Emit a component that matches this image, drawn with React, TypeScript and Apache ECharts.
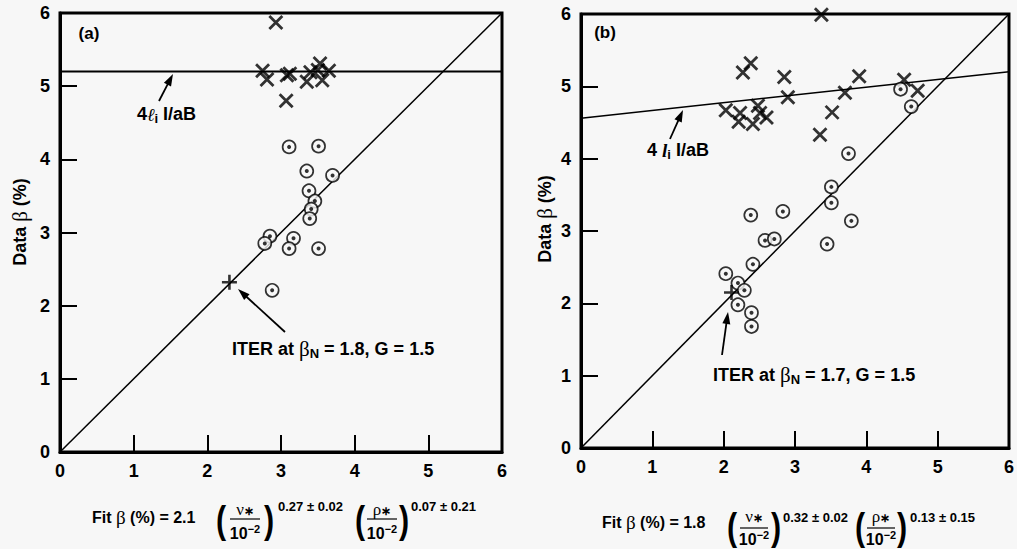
import React, { useEffect, useRef } from "react";
import * as echarts from "echarts";

// ---------- data ----------
const axisTicks = [0, 1, 2, 3, 4, 5, 6];

// Panel (a)
const aCrosses: number[][] = [
  [2.75, 5.21], [2.81, 5.09], [2.93, 5.87], [3.08, 5.15], [3.12, 5.17],
  [3.07, 4.8], [3.35, 5.06], [3.4, 5.19], [3.5, 5.22], [3.53, 5.31],
  [3.56, 5.08], [3.65, 5.21],
];
const aCircles: number[][] = [
  [3.11, 4.17], [3.51, 4.18], [3.35, 3.84], [3.7, 3.78], [3.38, 3.57],
  [3.46, 3.43], [3.41, 3.32], [3.39, 3.19], [2.85, 2.95], [2.78, 2.85],
  [3.17, 2.92], [3.11, 2.78], [3.51, 2.78], [2.88, 2.21],
];
const aIter: number[][] = [[2.3, 2.32]];
const aLimitLine: number[][] = [[0, 5.2], [6, 5.2]];
const aFitLine: number[][] = [[0, 0], [6, 6]];

// Panel (b)
const bCrosses: number[][] = [
  [3.37, 5.99], [2.27, 5.19], [2.38, 5.32], [2.85, 5.13], [2.9, 4.85],
  [2.03, 4.67], [2.23, 4.63], [2.21, 4.51], [2.41, 4.48], [2.48, 4.73],
  [2.51, 4.63], [2.6, 4.57], [3.35, 4.33], [3.52, 4.64], [3.7, 4.91],
  [3.9, 5.14], [4.53, 5.09], [4.72, 4.94],
];
const bCircles: number[][] = [
  [4.48, 4.96], [4.63, 4.72], [3.75, 4.07], [3.51, 3.61], [3.51, 3.39],
  [3.79, 3.14], [3.45, 2.82], [2.38, 3.22], [2.83, 3.27], [2.58, 2.87],
  [2.71, 2.89], [2.41, 2.54], [2.03, 2.41], [2.2, 2.28], [2.29, 2.18],
  [2.2, 1.98], [2.39, 1.87], [2.39, 1.68],
];
const bIter: number[][] = [[2.11, 2.15]];
const bLimitLine: number[][] = [[0, 4.56], [6, 5.2]];
const bFitLine: number[][] = [[0, 0], [6, 6]];

// ---------- styling ----------
const BG = "#f7f7f7";
const FONT = "'Liberation Sans', Arial, sans-serif";
const SERIF = "'Liberation Serif', serif";
const CROSS = "path://M0,0L10,10M10,0L0,10";
const PLUS = "path://M5,0L5,10M0,5L10,5";

function arrow(x1: number, y1: number, x2: number, y2: number) {
  const dx = x2 - x1, dy = y2 - y1;
  const L = Math.hypot(dx, dy);
  const ux = dx / L, uy = dy / L;
  const hl = 12, hw = 4;
  const bx = x2 - ux * hl, by = y2 - uy * hl;
  return [
    { type: "line", shape: { x1, y1, x2: bx + ux * 2, y2: by + uy * 2 }, style: { stroke: "#000", lineWidth: 1.8 } },
    {
      type: "polygon",
      shape: { points: [[x2, y2], [bx - uy * hw, by + ux * hw], [bx + uy * hw, by - ux * hw]] },
      style: { fill: "#000" },
    },
  ];
}

function txt(x: number, y: number, text: string, opts: any = {}) {
  return {
    type: "text",
    x,
    y,
    scaleX: opts.scaleX || 1,
    style: {
      text,
      fill: "#000",
      font: opts.font || `bold 17px ${FONT}`,
      textAlign: opts.align || "left",
      textVerticalAlign: "middle",
      rich: opts.rich,
    },
    rotation: opts.rotation || 0,
  };
}

function makeRich(size: number) {
  return {
    t: { fontFamily: FONT, fontWeight: "bold", fontSize: size, color: "#000" },
    g: { fontFamily: SERIF, fontSize: size + 3, color: "#000" },
    s: { fontFamily: FONT, fontWeight: "bold", fontSize: size - 5, color: "#000", padding: [8, 0, 0, 0] },
    sup: { fontFamily: FONT, fontWeight: "bold", fontSize: size - 5, color: "#000", padding: [0, 0, 8, 0] },
    i: { fontFamily: SERIF, fontStyle: "italic", fontWeight: "bold", fontSize: size + 1, color: "#000" },
    sc: { fontFamily: "'DejaVu Serif', serif", fontStyle: "italic", fontSize: size, color: "#000" },
    r: { fontFamily: SERIF, fontWeight: "bold", fontSize: size + 1, color: "#000" },
  };
}
const rich18 = makeRich(18);
const rich16 = makeRich(16);

function fraction(cx: number, numY: number, lineY: number, denY: number, sym: string, lw: number) {
  return [
    txt(cx, numY, `{g|${sym}}{s2|∗}`, {
      align: "center",
      rich: { ...rich16, g: { ...rich16.g, fontSize: 17 }, s2: { fontFamily: FONT, fontWeight: "bold", fontSize: 12, color: "#000", padding: [4, 0, 0, 0] } },
    }),
    { type: "line", shape: { x1: cx - lw / 2, y1: lineY, x2: cx + lw / 2, y2: lineY }, style: { stroke: "#000", lineWidth: 1.2 } },
    txt(cx, denY, "{t|10}{sup|−2}", { align: "center", rich: rich16 }),
  ];
}

function paren(x: number, y: number, ch: string) {
  return txt(x, y, ch, { font: `600 38px ${FONT}`, align: "center", scaleX: 0.8 });
}

function axisCfg(gridIndex: number) {
  return {
    type: "value",
    gridIndex,
    min: 0,
    max: 6,
    interval: 1,
    axisLine: { show: true, onZero: false, lineStyle: { color: "#000", width: 3 } },
    axisTick: { show: true, inside: true, length: 17, lineStyle: { color: "#000", width: 2 } },
    splitLine: { show: false },
    axisLabel: {
      color: "#000",
      fontFamily: FONT,
      fontWeight: "bold",
      fontSize: 18,
      margin: 10,
      showMinLabel: true,
      showMaxLabel: true,
    },
  };
}

function panelSeries(xi: number, crosses: number[][], circles: number[][], iter: number[][], limit: number[][], fit: number[][], limitW: number) {
  return [
    { type: "line", xAxisIndex: xi, yAxisIndex: xi, data: fit, symbol: "none", lineStyle: { color: "#000", width: 1.5 }, z: 2 },
    { type: "line", xAxisIndex: xi, yAxisIndex: xi, data: limit, symbol: "none", lineStyle: { color: "#000", width: limitW }, z: 2 },
    {
      type: "scatter", xAxisIndex: xi, yAxisIndex: xi, data: crosses, symbol: CROSS, symbolSize: 13,
      itemStyle: { color: "rgba(0,0,0,0)", borderColor: "#000", borderWidth: 2.8 }, z: 3,
    },
    {
      type: "scatter", xAxisIndex: xi, yAxisIndex: xi, data: circles, symbol: "circle", symbolSize: 13,
      itemStyle: { color: BG, borderColor: "#000", borderWidth: 1.7 }, z: 3,
    },
    {
      type: "scatter", xAxisIndex: xi, yAxisIndex: xi, data: circles, symbol: "circle", symbolSize: 4,
      itemStyle: { color: "#000" }, z: 4,
    },
    {
      type: "scatter", xAxisIndex: xi, yAxisIndex: xi, data: iter, symbol: PLUS, symbolSize: 15,
      itemStyle: { color: "rgba(0,0,0,0)", borderColor: "#000", borderWidth: 2.6 }, z: 5,
    },
  ];
}

export default function App() {
  const ref = useRef<HTMLDivElement>(null);
  useEffect(() => {
    if (!ref.current) return;
    const chart = echarts.init(ref.current, undefined, { renderer: "svg" });
    const graphics: any[] = [
      // panel labels
      txt(89, 33, "(a)", { align: "center" }),
      txt(605, 32, "(b)", { align: "center" }),
      // y axis titles
      txt(20, 222, "{t|Data }{g|β}{t| (%)}", { align: "center", rotation: Math.PI / 2, rich: rich18 }),
      txt(545, 219, "{t|Data }{g|β}{t| (%)}", { align: "center", rotation: Math.PI / 2, rich: rich18 }),
      // limit annotations
      txt(137, 114, "{t|4}{sc|ℓ}{s|i}{t| I/aB}", { rich: rich18 }),
      txt(647, 150, "{t|4 }{i|l}{s|i}{t| I/aB}", { rich: rich18 }),
      ...arrow(159, 101, 173, 74),
      ...arrow(670, 139, 683, 110),
      // ITER annotations
      txt(232, 349, "{t|ITER at }{g|β}{s|N}{t| = 1.8, G = 1.5}", { rich: rich18 }),
      txt(713, 375, "{t|ITER at }{g|β}{s|N}{t| = 1.7, G = 1.5}", { rich: rich18 }),
      ...arrow(285, 332, 238, 289),
      ...arrow(722, 355, 728, 312),
      // formula (a)
      txt(92, 517, "{t|Fit }{g|β}{t| (%) = 2.1}", { rich: rich16 }),
      paren(221, 520, "("),
      ...fraction(245, 509, 519, 533, "ν", 30),
      paren(269, 520, ")"),
      txt(278, 506, "0.27 ± 0.02", { font: `bold 13px ${FONT}` }),
      paren(360, 520, "("),
      ...fraction(382, 509, 519, 533, "ρ", 30),
      paren(404, 520, ")"),
      txt(411, 506, "0.07 ± 0.21", { font: `bold 13px ${FONT}` }),
      // formula (b)
      txt(602, 522, "{t|Fit }{g|β}{t| (%) = 1.8}", { rich: rich16 }),
      paren(732, 527, "("),
      ...fraction(754, 516, 528, 539, "ν", 28),
      paren(776, 527, ")"),
      txt(783, 517, "0.32 ± 0.02", { font: `bold 13px ${FONT}` }),
      paren(860, 527, "("),
      ...fraction(881, 516, 528, 539, "ρ", 28),
      paren(902, 527, ")"),
      txt(910, 517, "0.13 ± 0.15", { font: `bold 13px ${FONT}` }),
    ];
    chart.setOption({
      animation: false,
      backgroundColor: BG,
      grid: [
        { left: 60, top: 13, width: 442, height: 439, show: true, borderColor: "#000", borderWidth: 3, backgroundColor: "transparent" },
        { left: 581, top: 14, width: 433, height: 434, show: true, borderColor: "#000", borderWidth: 3, backgroundColor: "transparent" },
      ],
      xAxis: [axisCfg(0), axisCfg(1)],
      yAxis: [axisCfg(0), axisCfg(1)],
      series: [
        ...panelSeries(0, aCrosses, aCircles, aIter, aLimitLine, aFitLine, 2),
        ...panelSeries(1, bCrosses, bCircles, bIter, bLimitLine, bFitLine, 1.5),
      ],
      graphic: graphics,
    });
    return () => chart.dispose();
  }, []);
  return (
    <div
      ref={ref}
      data-ticks={axisTicks.join(",")}
      style={{ position: "fixed", left: 0, top: 0, width: 1017, height: 549 }}
    />
  );
}
